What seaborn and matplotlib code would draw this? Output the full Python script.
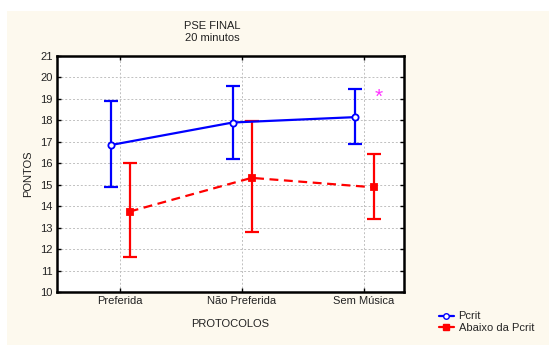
import matplotlib
matplotlib.use("Agg")
import matplotlib.pyplot as plt
from matplotlib.lines import Line2D
from matplotlib.patches import Rectangle
import seaborn as sns
import pandas as pd

categories = ["Preferida", "Não Preferida", "Sem Música"]
groups = ["Pcrit", "Abaixo da Pcrit"]

pcrit_mean = [16.85, 17.9, 18.15]
pcrit_low = [14.9, 16.2, 16.88]
pcrit_high = [18.9, 19.6, 19.48]

abaixo_mean = [13.75, 15.32, 14.88]
abaixo_low = [11.63, 12.8, 13.4]
abaixo_high = [16.02, 17.95, 16.43]

yticks = list(range(10, 22))

sns.set_theme(style="white")
plt.rcParams["font.family"] = ["Liberation Sans", "DejaVu Sans"]

fig = plt.figure(figsize=(5.49, 3.45), dpi=100)
fig.patch.set_facecolor("white")
fig.patches.append(Rectangle((7 / 549, -0.01), 1.02, 1.01 - 11 / 345, transform=fig.transFigure,
                             facecolor="#fdf9ee", edgecolor="none", zorder=-10))

ax = fig.add_axes([57 / 549, 1 - 292 / 345, 347 / 549, 236 / 345])
ax.set_facecolor("white")

offsets = {"Pcrit": -0.075, "Abaixo da Pcrit": 0.08}
colors = {"Pcrit": "#0000ff", "Abaixo da Pcrit": "#ff0000"}

rows = []
for g, m, lo, hi in [("Pcrit", pcrit_mean, pcrit_low, pcrit_high),
                     ("Abaixo da Pcrit", abaixo_mean, abaixo_low, abaixo_high)]:
    for i, c in enumerate(categories):
        rows.append({"grupo": g, "protocolo": c, "pos": i + offsets[g],
                     "media": m[i], "inf": lo[i], "sup": hi[i]})
df = pd.DataFrame(rows)

sns.lineplot(data=df, x="pos", y="media", hue="grupo", style="grupo",
             palette=colors, dashes={"Pcrit": "", "Abaixo da Pcrit": (4, 2.5)},
             markers={"Pcrit": "o", "Abaixo da Pcrit": "s"}, markersize=5,
             linewidth=1.6, legend=False, ax=ax, zorder=3)

# marker edges in the series colour, open circle for Pcrit
for line in ax.get_lines():
    col = line.get_color()
    line.set_markeredgecolor(col)
    line.set_markeredgewidth(1.3)
    if line.get_marker() == "o":
        line.set_markerfacecolor("white")
        line.set_markersize(4.5)
    else:
        line.set_markerfacecolor(col)
        line.set_markersize(4.5)

for g in groups:
    sub = df[df["grupo"] == g]
    ax.errorbar(sub["pos"], sub["media"],
                yerr=[sub["media"] - sub["inf"], sub["sup"] - sub["media"]],
                fmt="none", ecolor=colors[g], elinewidth=1.6, capsize=5,
                capthick=1.6, zorder=2)

ax.text(2.12, 19.07, "*", color="#ff33ff", fontsize=15, ha="center", va="center")

ax.set_xlim(-0.516, 2.33)
ax.set_ylim(10, 21)
ax.set_yticks(yticks)
ax.set_xticks(range(len(categories)))
ax.set_xticklabels(categories)
ax.grid(True, color="#c0c0c0", linestyle=(0, (2, 2)), linewidth=0.7)
ax.set_axisbelow(True)
for s in ax.spines.values():
    s.set_color("black")
    s.set_linewidth(1.8)
ax.tick_params(direction="in", length=3, width=1, colors="black",
               labelsize=8, top=True, right=True, left=True, bottom=True,
               labelcolor="#222222", pad=3)
ax.set_xlabel("PROTOCOLOS", fontsize=8, color="#222222", labelpad=9)
ax.set_ylabel("PONTOS", fontsize=8, color="#222222", labelpad=5)

fig.text(212 / 549, 1 - 26 / 345, "PSE FINAL", ha="center", va="center",
         fontsize=8, color="#222222")
fig.text(212 / 549, 1 - 38 / 345, "20 minutos", ha="center", va="center",
         fontsize=8, color="#222222")

handles = [Line2D([], [], color=colors["Pcrit"], marker="o", markerfacecolor="white",
                  markeredgecolor=colors["Pcrit"], markersize=4, linewidth=1.6),
           Line2D([], [], color=colors["Abaixo da Pcrit"], marker="s",
                  markeredgecolor=colors["Abaixo da Pcrit"], markersize=4, linewidth=1.6)]
fig.legend(handles, groups, loc="center left", bbox_to_anchor=(433 / 549, 1 - 322 / 345),
           frameon=False, fontsize=8, handlelength=1.4, handletextpad=0.4,
           labelspacing=0.1, borderpad=0)

fig.savefig("out.png", dpi=100)
